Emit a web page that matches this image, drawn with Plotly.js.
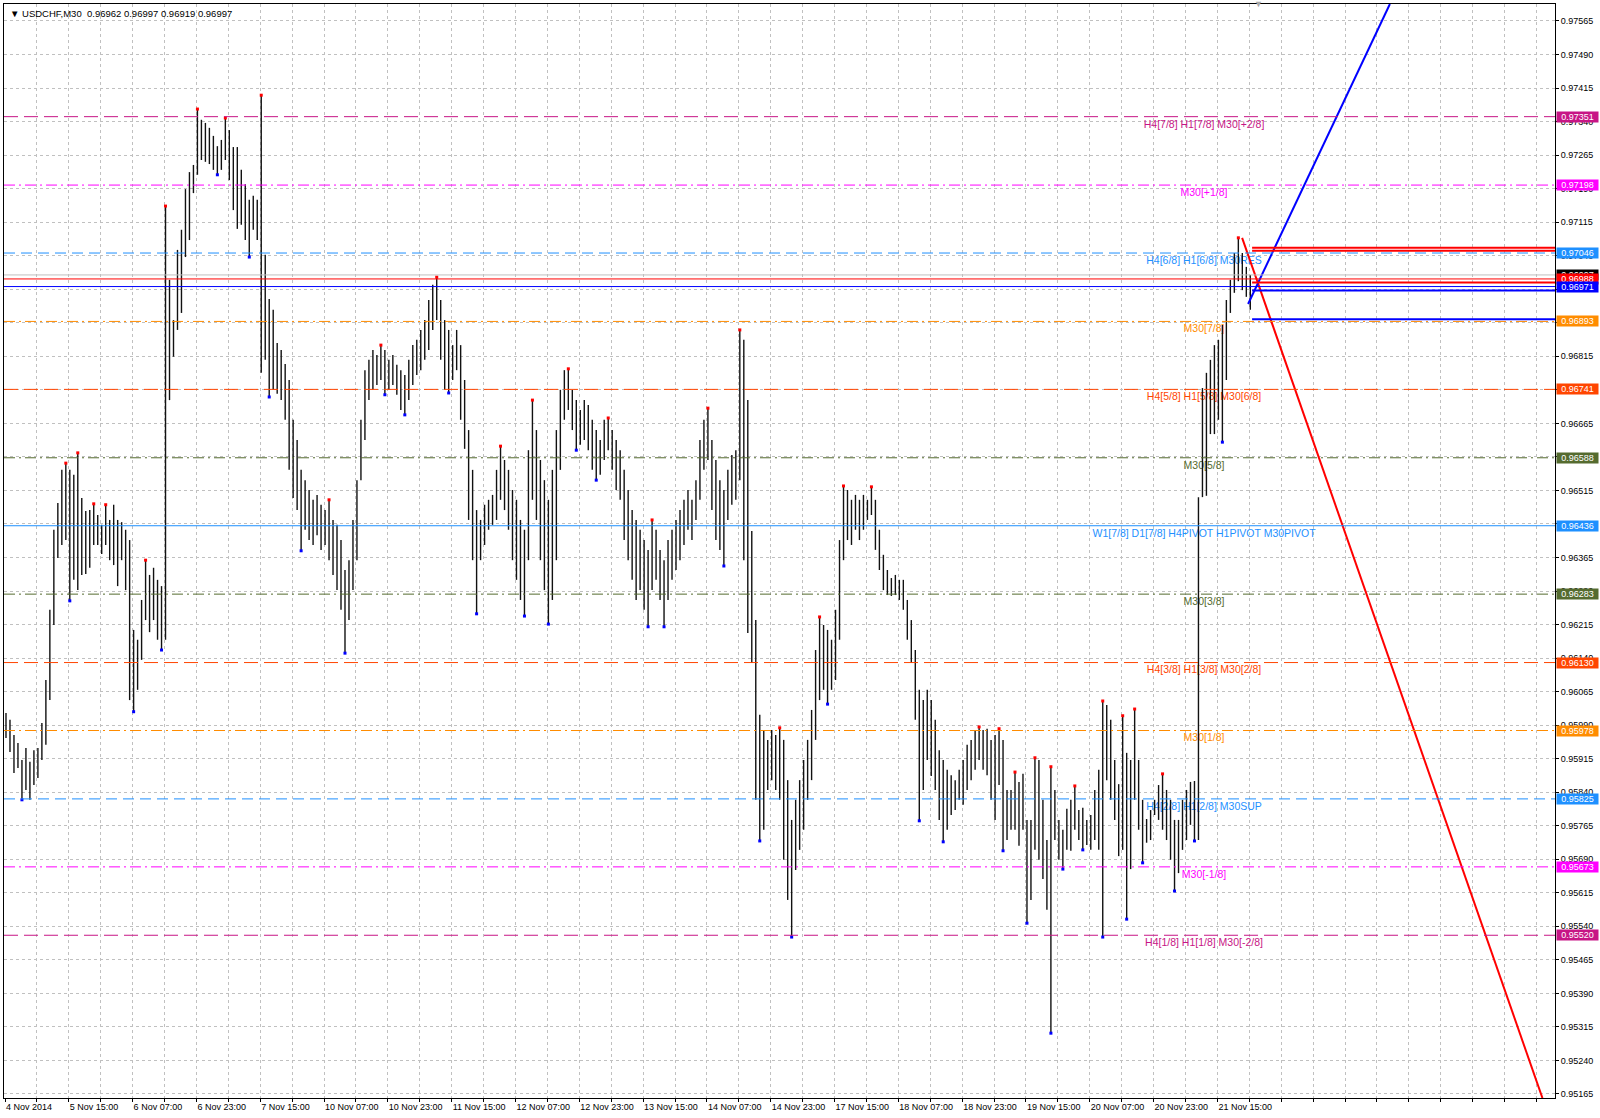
<!DOCTYPE html>
<html><head><meta charset="utf-8">
<script src="https://cdn.plot.ly/plotly-3.0.1.min.js"></script>
<style>html,body{margin:0;padding:0;background:#fff}#chart{width:1600px;height:1118px}</style>
</head><body><div id="chart"></div>
<script>
// ---------- DATA ----------
const symbolTitle = "USDCHF,M30";
const headerOHLC = [0.96962, 0.96997, 0.96919, 0.96997];

// hourly bars (each covers two M30 slots on the time axis)
const barHigh = [
0.96017,0.96002,0.95968,0.95950,0.95912,0.95939,0.95908,0.95934,0.95939,0.95995,
0.96091,0.96248,0.96427,0.96487,0.96561,0.96576,0.96561,0.96550,0.96599,0.96498,
0.96469,0.96471,0.96485,0.96460,0.96438,0.96483,0.96449,0.96483,0.96449,0.96444,
0.96427,0.96404,0.96203,0.96181,0.96270,0.96359,0.96326,0.96342,0.96315,0.96301,
0.97151,0.96986,0.96896,0.97053,0.97098,0.97189,0.97227,0.97243,0.97368,0.97344,
0.97337,0.97326,0.97308,0.97285,0.97299,0.97348,0.97321,0.97283,0.97283,0.97232,
0.97200,0.97165,0.97174,0.97165,0.97399,0.97042,0.96943,0.96919,0.96845,0.96829,
0.96798,0.96762,0.96673,0.96628,0.96561,0.96538,0.96516,0.96494,0.96505,0.96483,
0.96471,0.96494,0.96449,0.96438,0.96404,0.96337,0.96359,0.96449,0.96538,0.96673,
0.96784,0.96807,0.96829,0.96818,0.96840,0.96829,0.96807,0.96818,0.96796,0.96784,
0.96773,0.96807,0.96840,0.96852,0.96874,0.96896,0.96941,0.96975,0.96992,0.96941,
0.96896,0.96874,0.96840,0.96874,0.96840,0.96762,0.96650,0.96561,0.96471,0.96449,
0.96483,0.96494,0.96505,0.96561,0.96614,0.96583,0.96561,0.96516,0.96494,0.96449,
0.96427,0.96605,0.96717,0.96650,0.96583,0.96538,0.96494,0.96561,0.96650,0.96740,
0.96784,0.96787,0.96740,0.96717,0.96695,0.96717,0.96706,0.96673,0.96650,0.96628,
0.96673,0.96677,0.96650,0.96628,0.96605,0.96561,0.96516,0.96471,0.96449,0.96427,
0.96404,0.96382,0.96449,0.96427,0.96382,0.96359,0.96404,0.96427,0.96449,0.96471,
0.96494,0.96516,0.96494,0.96538,0.96628,0.96673,0.96699,0.96628,0.96583,0.96538,
0.96516,0.96561,0.96594,0.96605,0.96874,0.96852,0.96717,0.96424,0.96225,0.96013,
0.95979,0.95957,0.95979,0.95968,0.95984,0.95957,0.95867,0.95778,0.95823,0.95867,
0.95912,0.95957,0.96024,0.96158,0.96232,0.96214,0.96203,0.96181,0.96248,0.96404,
0.96525,0.96516,0.96494,0.96505,0.96494,0.96505,0.96494,0.96523,0.96494,0.96427,
0.96371,0.96337,0.96319,0.96326,0.96315,0.96315,0.96270,0.96225,0.96158,0.96069,
0.96046,0.96069,0.96046,0.96002,0.95934,0.95912,0.95890,0.95878,0.95867,0.95890,
0.95912,0.95946,0.95957,0.95979,0.95986,0.95979,0.95982,0.95957,0.95968,0.95982,
0.95957,0.95845,0.95845,0.95885,0.95863,0.95881,0.95778,0.95778,0.95917,0.95912,
0.95823,0.95733,0.95897,0.95845,0.95778,0.95756,0.95803,0.95823,0.95854,0.95800,
0.95805,0.95778,0.95789,0.95845,0.95890,0.96044,0.96035,0.96002,0.95912,0.95858,
0.96011,0.95928,0.95912,0.96026,0.95912,0.95823,0.95780,0.95800,0.95823,0.95856,
0.95881,0.95845,0.95823,0.95778,0.95778,0.95823,0.95845,0.95863,0.95865,0.96500,
0.96744,0.96778,0.96807,0.96840,0.96852,0.96885,0.96941,0.96986,0.97046,0.97080,
0.97046,0.97015,0.96997];
const barLow = [
0.95961,0.95930,0.95883,0.95894,0.95823,0.95845,0.95823,0.95856,0.95872,0.95912,
0.95946,0.96046,0.96214,0.96364,0.96393,0.96404,0.96268,0.96315,0.96292,0.96326,
0.96328,0.96342,0.96393,0.96393,0.96373,0.96393,0.96359,0.96348,0.96301,0.96359,
0.96292,0.96046,0.96020,0.96069,0.96136,0.96225,0.96198,0.96225,0.96181,0.96158,
0.96181,0.96717,0.96814,0.96874,0.96912,0.97037,0.97075,0.97180,0.97221,0.97254,
0.97250,0.97245,0.97232,0.97221,0.97232,0.97254,0.97209,0.97142,0.97100,0.97109,
0.97075,0.97037,0.97098,0.97075,0.96778,0.96807,0.96724,0.96740,0.96731,0.96717,
0.96673,0.96561,0.96498,0.96471,0.96380,0.96427,0.96404,0.96393,0.96415,0.96382,
0.96393,0.96359,0.96326,0.96292,0.96248,0.96151,0.96225,0.96292,0.96359,0.96538,
0.96628,0.96717,0.96740,0.96751,0.96762,0.96729,0.96740,0.96751,0.96729,0.96695,
0.96684,0.96717,0.96751,0.96773,0.96784,0.96807,0.96829,0.96874,0.96896,0.96807,
0.96740,0.96733,0.96762,0.96784,0.96673,0.96608,0.96449,0.96359,0.96239,0.96359,
0.96393,0.96427,0.96438,0.96449,0.96494,0.96471,0.96427,0.96359,0.96315,0.96270,
0.96234,0.96359,0.96494,0.96449,0.96359,0.96292,0.96216,0.96270,0.96359,0.96561,
0.96673,0.96695,0.96650,0.96605,0.96617,0.96628,0.96605,0.96561,0.96538,0.96550,
0.96583,0.96605,0.96561,0.96516,0.96494,0.96404,0.96359,0.96315,0.96270,0.96292,
0.96248,0.96210,0.96292,0.96315,0.96270,0.96210,0.96270,0.96315,0.96337,0.96359,
0.96393,0.96427,0.96404,0.96449,0.96494,0.96561,0.96583,0.96471,0.96404,0.96382,
0.96346,0.96449,0.96483,0.96494,0.96538,0.96359,0.96196,0.96129,0.95823,0.95731,
0.95756,0.95845,0.95867,0.95845,0.95823,0.95689,0.95599,0.95516,0.95666,0.95711,
0.95756,0.95823,0.95867,0.95957,0.96046,0.96069,0.96037,0.96069,0.96091,0.96181,
0.96359,0.96404,0.96393,0.96427,0.96404,0.96427,0.96449,0.96460,0.96382,0.96337,
0.96292,0.96281,0.96279,0.96281,0.96270,0.96248,0.96181,0.96129,0.96002,0.95776,
0.95845,0.95912,0.95876,0.95845,0.95778,0.95729,0.95756,0.95789,0.95800,0.95823,
0.95812,0.95845,0.95867,0.95890,0.95912,0.95890,0.95878,0.95823,0.95778,0.95856,
0.95709,0.95733,0.95756,0.95756,0.95720,0.95756,0.95547,0.95599,0.95711,0.95689,
0.95646,0.95577,0.95301,0.95733,0.95689,0.95668,0.95711,0.95709,0.95756,0.95733,
0.95711,0.95722,0.95711,0.95733,0.95711,0.95516,0.95867,0.95823,0.95778,0.95697,
0.95711,0.95556,0.95668,0.95823,0.95756,0.95682,0.95727,0.95733,0.95789,0.95778,
0.95756,0.95733,0.95689,0.95619,0.95659,0.95711,0.95733,0.95767,0.95731,0.95733,
0.96500,0.96503,0.96641,0.96641,0.96673,0.96623,0.96762,0.96912,0.96957,0.96983,
0.96963,0.96948,0.96919];

// time axis labels (every 32 M30 bars)
const dateLabels = ["4 Nov 2014","5 Nov 15:00","6 Nov 07:00","6 Nov 23:00","7 Nov 15:00",
 "10 Nov 07:00","10 Nov 23:00","11 Nov 15:00","12 Nov 07:00","12 Nov 23:00","13 Nov 15:00",
 "14 Nov 07:00","14 Nov 23:00","17 Nov 15:00","18 Nov 07:00","18 Nov 23:00","19 Nov 15:00",
 "20 Nov 07:00","20 Nov 23:00","21 Nov 15:00"];

// Murrey levels
const levelPrice = [0.97351,0.97198,0.97046,0.96893,0.96741,0.96588,0.96436,0.96283,0.96130,0.95978,0.95825,0.95673,0.95520];
const levelName = ["H4[7/8] H1[7/8] M30[+2/8]","M30[+1/8]","H4[6/8] H1[6/8] M30RES","M30[7/8]",
 "H4[5/8] H1[5/8] M30[6/8]","M30[5/8]","W1[7/8] D1[7/8] H4PIVOT H1PIVOT M30PIVOT","M30[3/8]",
 "H4[3/8] H1[3/8] M30[2/8]","M30[1/8]","H4[2/8] H1[2/8] M30SUP","M30[-1/8]","H4[1/8] H1[1/8] M30[-2/8]"];

const bidPrice = 0.96997, redLinePrice = 0.96988, blueLinePrice = 0.96971;
const projRedPrices = [0.97058, 0.97051, 0.96980];
const projBluePrices = [0.96962, 0.96898];
const projStartIdx = 625.4;
const redTrendX = [620.4, 771.0], redTrendY = [0.97080, 0.95156];
const blueTrendX = [623.4, 694.5], blueTrendY = [0.96932, 0.97603];

// ---------- STYLES ----------
const VIOLET='#C71585', MAGENTA='#FF00FF', DODGER='#1E90FF', DORANGE='#FF8C00', ORED='#FF4500', OLIVE='#556B2F';
const LONG='14px,6px', DASH='11px,6px', DDOT='11px,4px,2px,4px';
const levelColor = [VIOLET,MAGENTA,DODGER,DORANGE,ORED,OLIVE,DODGER,OLIVE,ORED,DORANGE,DODGER,MAGENTA,VIOLET];
const levelDash  = [LONG,DDOT,DASH,DDOT,LONG,DDOT,'solid',DDOT,LONG,DDOT,DASH,DDOT,LONG];
const FONT = 'Liberation Sans, Arial, sans-serif';
const labelIdx = 601.3;
const yRange = [0.95156, 0.97603];
const plotH = 1118 - 4 - 20;
const labelDropPx = 3;

// ---------- BUILD ----------
const m30PerBar = 2;
const n = barHigh.length;
const bx=[], by=[];
for (let k=0;k<n;k++){ const x=k*m30PerBar+0.5; bx.push(x,x,null); by.push(barLow[k],barHigh[k],null); }

const fux=[],fuy=[],fdx=[],fdy=[];
for (let k=2;k<n-2;k++){
  const x=k*m30PerBar+0.5;
  if (barHigh[k]>barHigh[k-1]&&barHigh[k]>barHigh[k-2]&&barHigh[k]>=barHigh[k+1]&&barHigh[k]>=barHigh[k+2]){fux.push(x);fuy.push(barHigh[k]);}
  if (barLow[k]<barLow[k-1]&&barLow[k]<barLow[k-2]&&barLow[k]<=barLow[k+1]&&barLow[k]<=barLow[k+2]){fdx.push(x);fdy.push(barLow[k]);}
}

const tickvals=[], ticktext=[];
for (let i=0;i<=48;i++){ tickvals.push(i*16); ticktext.push(i%2===0 && dateLabels[i/2] ? dateLabels[i/2] : ''); }

const pxToPrice = (yRange[1]-yRange[0])/plotH;
const traces = [
  {type:'scatter', mode:'text', x:levelPrice.map(()=>labelIdx), y:levelPrice.map(p=>p-labelDropPx*pxToPrice), text:levelName,
   textposition:'bottom center', textfont:{family:FONT, size:10.5, color:levelColor}, hoverinfo:'skip'},
  {type:'scatter', mode:'lines', x:bx, y:by, line:{color:'#111', width:1.4}, hoverinfo:'skip', connectgaps:false},
  {type:'scatter', mode:'markers', x:fux, y:fuy, marker:{symbol:'square', size:3, color:'#FF0000'}, hoverinfo:'skip'},
  {type:'scatter', mode:'markers', x:fdx, y:fdy, marker:{symbol:'square', size:3, color:'#0000FF'}, hoverinfo:'skip'},
  {type:'scatter', mode:'lines', x:redTrendX, y:redTrendY, line:{color:'#FF0000', width:2}, hoverinfo:'skip'},
  {type:'scatter', mode:'lines', x:blueTrendX, y:blueTrendY, line:{color:'#0000FF', width:2}, hoverinfo:'skip'}
];

const shapes = [];
levelPrice.forEach((p,i)=>shapes.push({type:'line', xref:'paper', x0:0, x1:1, yref:'y', y0:p, y1:p,
  line:{color:levelColor[i], width:1, dash:levelDash[i]}}));
shapes.push({type:'line', xref:'paper', x0:0, x1:1, yref:'y', y0:bidPrice, y1:bidPrice, line:{color:'#C0C0C0', width:1}});
shapes.push({type:'line', xref:'paper', x0:0, x1:1, yref:'y', y0:redLinePrice, y1:redLinePrice, line:{color:'#FF0000', width:1}});
shapes.push({type:'line', xref:'paper', x0:0, x1:1, yref:'y', y0:blueLinePrice, y1:blueLinePrice, line:{color:'#0000FF', width:1}});
projRedPrices.forEach(p=>shapes.push({type:'line', xref:'x', x0:projStartIdx, x1:777.3, yref:'y', y0:p, y1:p, line:{color:'#FF0000', width:2}}));
projBluePrices.forEach(p=>shapes.push({type:'line', xref:'x', x0:projStartIdx, x1:777.3, yref:'y', y0:p, y1:p, line:{color:'#0000FF', width:2}}));

const annotations = [];
function priceBox(p, bg){
  annotations.push({xref:'paper', x:1, xanchor:'left', xshift:1, yref:'y', y:p, yanchor:'middle',
    text:p.toFixed(5), showarrow:false, bgcolor:bg, font:{family:FONT, size:9, color:'#fff'},
    width:41, height:10, borderpad:0, align:'center'});
}
levelPrice.forEach((p,i)=>{ if (i<3) priceBox(p, levelColor[i]); });
priceBox(bidPrice, '#000');
priceBox(redLinePrice, '#FF0000');
priceBox(blueLinePrice, '#0000FF');
levelPrice.forEach((p,i)=>{ if (i>=3) priceBox(p, levelColor[i]); });

annotations.push({xref:'paper', x:0, xanchor:'left', xshift:4, yref:'paper', y:1, yanchor:'top', yshift:-2,
  text:'\u25BC ' + symbolTitle + '  ' + headerOHLC.map(v=>v.toFixed(5)).join(' '),
  showarrow:false, font:{family:FONT, size:9.5, color:'#000'}});
annotations.push({xref:'x', x:628.4, xanchor:'center', yref:'paper', y:1, yanchor:'middle',
  text:'\u25BC', showarrow:false, font:{family:FONT, size:9, color:'#A8A8A8'}});

const layout = {
  width:1600, height:1118,
  margin:{l:4, r:45, t:4, b:20},
  paper_bgcolor:'#fff', plot_bgcolor:'#fff',
  font:{family:FONT, size:9, color:'#000'},
  showlegend:false, hovermode:false,
  xaxis:{range:[-0.5,777.3], tickmode:'array', tickvals:tickvals, ticktext:ticktext,
    showgrid:true, gridcolor:'#C0C0C0', griddash:'3px,3px', gridwidth:1,
    showline:true, mirror:true, linecolor:'#000', linewidth:1,
    ticks:'outside', ticklen:3, tickcolor:'#000', ticklabelposition:'outside right',
    zeroline:false, tickfont:{family:FONT, size:9, color:'#000'}},
  yaxis:{side:'right', range:yRange, tickmode:'linear', tick0:0.95165, dtick:0.00075, tickformat:'.5f',
    showgrid:true, gridcolor:'#C0C0C0', griddash:'3px,3px', gridwidth:1,
    showline:true, mirror:true, linecolor:'#000', linewidth:1,
    ticks:'outside', ticklen:3, tickcolor:'#000', zeroline:false,
    tickfont:{family:FONT, size:9, color:'#000'}},
  shapes:shapes, annotations:annotations
};

Plotly.newPlot('chart', traces, layout, {staticPlot:true, displayModeBar:false});
</script>
</body></html>
